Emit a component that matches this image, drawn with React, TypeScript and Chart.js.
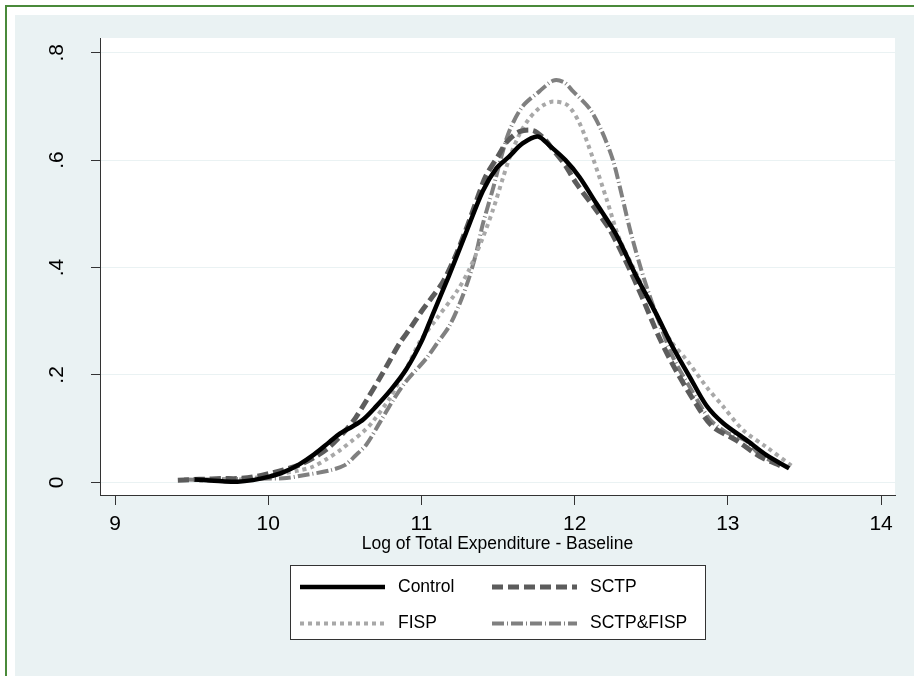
import React, { useEffect, useRef } from "react";
import { Chart, registerables } from "chart.js";

Chart.register(...registerables);

// ---- data ----
const xTicks = [9, 10, 11, 12, 13, 14];
const yTicks = [0, 0.2, 0.4, 0.6, 0.8];
const yTickLabels = ["0", ".2", ".4", ".6", ".8"];
const xTitle = "Log of Total Expenditure - Baseline";

const seriesNames = ["Control", "SCTP", "FISP", "SCTP&FISP"];

const controlX = [9.52, 9.6, 9.7, 9.8, 9.9, 10.0, 10.1, 10.2, 10.3, 10.4, 10.47, 10.55, 10.62, 10.7, 10.8, 10.9, 11.0, 11.07, 11.18, 11.29, 11.4, 11.49, 11.57, 11.66, 11.76, 11.84, 11.94, 12.03, 12.14, 12.27, 12.4, 12.53, 12.64, 12.75, 12.86, 12.97, 13.12, 13.25, 13.4];
const controlY = [0.005, 0.004, 0.002, 0.001, 0.004, 0.01, 0.019, 0.033, 0.052, 0.075, 0.091, 0.104, 0.117, 0.14, 0.172, 0.21, 0.262, 0.31, 0.385, 0.464, 0.542, 0.585, 0.606, 0.631, 0.644, 0.626, 0.6, 0.569, 0.52, 0.462, 0.385, 0.315, 0.252, 0.197, 0.143, 0.11, 0.079, 0.051, 0.026];

const sctpX = [9.41, 9.5, 9.6, 9.7, 9.8, 9.9, 10.0, 10.1, 10.2, 10.3, 10.4, 10.5, 10.57, 10.64, 10.72, 10.79, 10.86, 10.93, 11.0, 11.07, 11.14, 11.22, 11.29, 11.36, 11.42, 11.51, 11.56, 11.64, 11.73, 11.8, 11.86, 11.94, 12.01, 12.14, 12.23, 12.34, 12.44, 12.55, 12.66, 12.79, 12.9, 13.05, 13.21, 13.35];
const sctpY = [0.004, 0.005, 0.006, 0.007, 0.007, 0.01, 0.016, 0.023, 0.032, 0.046, 0.066, 0.095, 0.12, 0.152, 0.19, 0.225, 0.26, 0.288, 0.318, 0.345, 0.373, 0.42, 0.47, 0.525, 0.57, 0.612, 0.635, 0.653, 0.655, 0.64, 0.619, 0.59, 0.557, 0.507, 0.47, 0.408, 0.345, 0.271, 0.209, 0.147, 0.104, 0.079, 0.048, 0.03];

const fispX = [9.55, 9.7, 9.8, 9.9, 10.0, 10.1, 10.2, 10.29, 10.38, 10.47, 10.55, 10.62, 10.68, 10.79, 10.84, 10.92, 10.99, 11.1, 11.23, 11.31, 11.4, 11.47, 11.53, 11.58, 11.64, 11.7, 11.75, 11.8, 11.86, 11.95, 12.03, 12.12, 12.21, 12.29, 12.4, 12.55, 12.63, 12.73, 12.86, 12.97, 13.1, 13.25, 13.42];
const fispY = [0.003, 0.004, 0.005, 0.008, 0.012, 0.017, 0.022, 0.029, 0.043, 0.06, 0.078, 0.094, 0.112, 0.155, 0.18, 0.222, 0.262, 0.305, 0.355, 0.395, 0.455, 0.51, 0.565, 0.608, 0.648, 0.676, 0.692, 0.703, 0.709, 0.703, 0.67, 0.603, 0.526, 0.455, 0.39, 0.302, 0.262, 0.228, 0.178, 0.141, 0.097, 0.066, 0.03];

const bothX = [9.45, 9.6, 9.8, 10.0, 10.12, 10.25, 10.4, 10.5, 10.57, 10.64, 10.73, 10.82, 10.9, 11.03, 11.1, 11.18, 11.25, 11.31, 11.36, 11.4, 11.47, 11.52, 11.575, 11.66, 11.77, 11.86, 11.93, 11.99, 12.1, 12.18, 12.25, 12.31, 12.36, 12.42, 12.47, 12.53, 12.64, 12.75, 12.88, 12.99, 13.12, 13.21, 13.32];
const bothY = [0.005, 0.005, 0.006, 0.007, 0.008, 0.014, 0.022, 0.032, 0.05, 0.07, 0.112, 0.155, 0.188, 0.23, 0.258, 0.29, 0.333, 0.38, 0.43, 0.48, 0.55, 0.605, 0.655, 0.7, 0.728, 0.748, 0.745, 0.728, 0.695, 0.652, 0.6, 0.532, 0.472, 0.41, 0.364, 0.315, 0.234, 0.178, 0.118, 0.093, 0.077, 0.051, 0.035];

const FONT = "'Liberation Sans', Arial, Helvetica, sans-serif";
const toPts = (xs: number[], ys: number[]) => xs.map((x, i) => ({ x, y: ys[i] }));

const overlay = {
  id: "stataOverlay",
  beforeDraw(chart: any) {
    const { ctx, chartArea } = chart;
    ctx.save();
    ctx.fillStyle = "#ffffff";
    ctx.fillRect(chartArea.left, chartArea.top, chartArea.right - chartArea.left, chartArea.bottom - chartArea.top);
    ctx.restore();
  },
  afterDraw(chart: any) {
    const { ctx, chartArea, scales } = chart;
    const xs = scales.x;
    const ys = scales.y;
    ctx.save();
    ctx.fillStyle = "#000000";
    ctx.font = `21px ${FONT}`;
    ctx.textAlign = "center";
    ctx.textBaseline = "middle";
    yTicks.forEach((v, i) => {
      const py = ys.getPixelForValue(v);
      ctx.save();
      ctx.translate(chartArea.left - 43, py);
      ctx.rotate(-Math.PI / 2);
      ctx.fillText(yTickLabels[i], 0, 0);
      ctx.restore();
    });
    xTicks.forEach((v) => {
      const px = xs.getPixelForValue(v);
      ctx.fillText(String(v), px, chartArea.bottom + 29);
    });
    ctx.font = `17.5px ${FONT}`;
    ctx.fillText(xTitle, (chartArea.left + chartArea.right) / 2, chartArea.bottom + 49);

    // legend
    const boxL = chartArea.left + 190.5;
    const boxT = chartArea.bottom + 70.5;
    const boxW = 415;
    const boxH = 74;
    ctx.fillStyle = "#ffffff";
    ctx.fillRect(boxL, boxT, boxW, boxH);
    ctx.strokeStyle = "#333333";
    ctx.lineWidth = 1;
    ctx.strokeRect(boxL, boxT, boxW, boxH);
    const rows = [boxT + 21.5, boxT + 58];
    const cols = [boxL + 9.5, boxL + 201.5];
    const lineLen = 85;
    chart.data.datasets.forEach((ds: any, i: number) => {
      const cx = cols[i % 2];
      const cy = rows[Math.floor(i / 2)];
      ctx.save();
      ctx.strokeStyle = ds.borderColor;
      ctx.lineWidth = ds.borderWidth;
      ctx.setLineDash(ds.borderDash || []);
      ctx.lineCap = "butt";
      ctx.beginPath();
      ctx.moveTo(cx, cy);
      ctx.lineTo(cx + lineLen, cy);
      ctx.stroke();
      ctx.restore();
      ctx.fillStyle = "#000000";
      ctx.font = `17.5px ${FONT}`;
      ctx.textAlign = "left";
      ctx.textBaseline = "middle";
      ctx.fillText(ds.label, cx + lineLen + 13, cy);
    });
    ctx.restore();
  },
};

export default function App() {
  const ref = useRef<HTMLCanvasElement>(null);
  useEffect(() => {
    if (!ref.current) return;
    const chart = new Chart(ref.current, {
      type: "line",
      data: {
        datasets: [
          { label: seriesNames[0], data: toPts(controlX, controlY), borderColor: "#000000", borderWidth: 4.5, borderDash: [], tension: 0.3 },
          { label: seriesNames[1], data: toPts(sctpX, sctpY), borderColor: "#5c5c5c", borderWidth: 5, borderDash: [11, 5], tension: 0.3 },
          { label: seriesNames[2], data: toPts(fispX, fispY), borderColor: "#a8a8a8", borderWidth: 4, borderDash: [4, 4], tension: 0.3 },
          { label: seriesNames[3], data: toPts(bothX, bothY), borderColor: "#808080", borderWidth: 4, borderDash: [12, 3, 1, 3], tension: 0.3 },
        ],
      },
      options: {
        animation: false,
        responsive: false,
        maintainAspectRatio: false,
        devicePixelRatio: 1,
        layout: { padding: { left: 0, right: 19, top: 23, bottom: 0 } },
        elements: { point: { radius: 0 } },
        plugins: { legend: { display: false }, tooltip: { enabled: false } },
        scales: {
          x: {
            type: "linear",
            min: 8.902,
            max: 14.091,
            afterFit: (s: any) => { s.height = 181; },
            afterBuildTicks: (s: any) => { s.ticks = xTicks.map((v) => ({ value: v })); },
            ticks: { display: false },
            grid: { display: true, drawOnChartArea: false, drawTicks: true, tickLength: 10, tickColor: "#333333", lineWidth: 1 },
            border: { display: true, color: "#333333", width: 1 },
          },
          y: {
            type: "linear",
            min: -0.02365,
            max: 0.8274,
            afterFit: (s: any) => { s.width = 85; },
            afterBuildTicks: (s: any) => { s.ticks = yTicks.map((v) => ({ value: v })); },
            ticks: { display: false },
            grid: { display: true, color: "#EAF2F3", drawTicks: true, tickLength: 9, tickColor: "#333333", lineWidth: 1 },
            border: { display: true, color: "#333333", width: 1 },
          },
        },
      },
      plugins: [overlay],
    });
    return () => chart.destroy();
  }, []);

  return (
    <div style={{ position: "fixed", left: 0, top: 0, width: 914, height: 676, background: "#ffffff", overflow: "hidden" }}>
      <div style={{ position: "absolute", left: 5, top: 5, width: 920, height: 700, borderLeft: "2px solid #4a8a3a", borderTop: "2px solid #4a8a3a" }} />
      <canvas ref={ref} width={899} height={661} style={{ position: "absolute", left: 15, top: 15, width: 899, height: 661, background: "#EAF2F3" }} />
    </div>
  );
}
